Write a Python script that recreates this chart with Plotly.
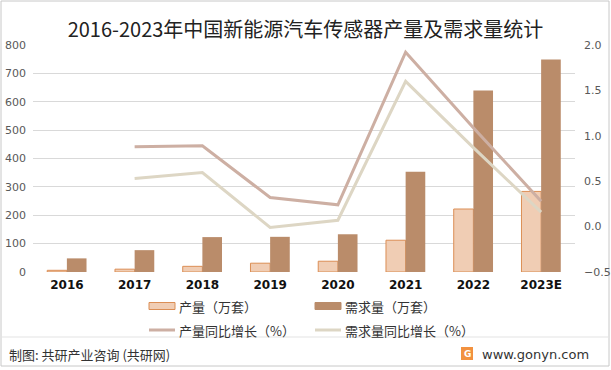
import plotly.graph_objects as go

years = ["2016", "2017", "2018", "2019", "2020", "2021", "2022", "2023E"]
production = [6, 10, 20, 31, 38, 112, 222, 284]
demand = [48, 77, 123, 124, 133, 353, 640, 749]
prod_growth = [None, 0.88, 0.89, 0.32, 0.24, 1.92, 1.09, 0.28]
demand_growth = [None, 0.53, 0.595, -0.01, 0.07, 1.60, 0.87, 0.16]
left_ticks = [0, 100, 200, 300, 400, 500, 600, 700, 800]
right_ticks = [-0.5, 0.0, 0.5, 1.0, 1.5, 2.0]
series_names = ["产量（万套）", "需求量（万套）", "产量同比增长（%）", "需求量同比增长（%）"]

FONT = "Noto Sans CJK SC"
W, H = 611, 370
L, R, T, B = 33, 36, 45, 98
PW, PH = W - L - R, H - T - B


def px(x):
    return (x - L) / PW


def py(y):
    return (H - B - y) / PH


C_PROD, C_PROD_LINE = "#F0CDB4", "#DB8E55"
C_DEM = "#BA8C6A"
C_PG, C_DG = "#CDAFA3", "#DDD6C4"

fig = go.Figure()
fig.add_trace(go.Bar(
    x=years, y=production, name=series_names[0],
    marker=dict(color=C_PROD, line=dict(color=C_PROD_LINE, width=1)),
))
fig.add_trace(go.Bar(
    x=years, y=demand, name=series_names[1],
    marker=dict(color=C_DEM, line=dict(color=C_DEM, width=0)),
))
fig.add_trace(go.Scatter(
    x=years, y=prod_growth, name=series_names[2], yaxis="y2",
    mode="lines", line=dict(color=C_PG, width=3),
))
fig.add_trace(go.Scatter(
    x=years, y=demand_growth, name=series_names[3], yaxis="y2",
    mode="lines", line=dict(color=C_DG, width=3),
))

fig.update_layout(
    width=W, height=H,
    margin=dict(l=L, r=R, t=T, b=B, autoexpand=False),
    paper_bgcolor="white", plot_bgcolor="white",
    font=dict(family=FONT, color="#595959", size=11),
    barmode="group", bargap=0.42, bargroupgap=0,
    showlegend=False,
    title=dict(text="2016-2023年中国新能源汽车传感器产量及需求量统计",
               x=0.5, xanchor="center", y=1 - 30 / H, yanchor="middle",
               font=dict(family=FONT, size=20, color="#222222")),
    xaxis=dict(type="category", showgrid=False, showline=False, ticks="",
               ticklabelstandoff=4,
               tickfont=dict(family="DejaVu Sans", size=12, color="#111111", weight="bold")),
    yaxis=dict(range=[0, 800], tickvals=left_ticks, showgrid=True,
               gridcolor="#D9D9D9", gridwidth=1, zeroline=False, showline=False,
               ticks="", ticklabelstandoff=6,
               tickfont=dict(family="DejaVu Sans", size=11, color="#595959")),
    yaxis2=dict(range=[-0.5, 2.0], tickvals=right_ticks, tickformat=".1f",
                overlaying="y", side="right", showgrid=False, zeroline=False,
                showline=False, ticks="", ticklabelstandoff=8,
                tickfont=dict(family="DejaVu Sans", size=11, color="#595959")),
)

# manual legend
legend_items = [
    (series_names[0], "bar", C_PROD, C_PROD_LINE, 149, 306),
    (series_names[1], "bar", C_DEM, C_DEM, 315, 306),
    (series_names[2], "line", C_PG, C_PG, 149, 330),
    (series_names[3], "line", C_DG, C_DG, 315, 330),
]
for name, kind, fill, edge, x0, yc in legend_items:
    if kind == "bar":
        fig.add_shape(type="rect", xref="paper", yref="paper",
                      x0=px(x0), x1=px(x0 + 26), y0=py(yc + 3.5), y1=py(yc - 3.5),
                      fillcolor=fill, line=dict(color=edge, width=1))
    else:
        fig.add_shape(type="line", xref="paper", yref="paper",
                      x0=px(x0), x1=px(x0 + 26), y0=py(yc), y1=py(yc),
                      line=dict(color=fill, width=3))
    fig.add_annotation(text=name, xref="paper", yref="paper",
                       x=px(x0 + 28), xanchor="left", y=py(yc), yanchor="middle",
                       showarrow=False, font=dict(family=FONT, size=13, color="#333333"))

# frame and footer separator
fig.add_shape(type="rect", xref="paper", yref="paper",
              x0=px(1), x1=px(609), y0=py(366), y1=py(1),
              line=dict(color="#C8C8C8", width=1), fillcolor="rgba(0,0,0,0)", layer="below")
fig.add_shape(type="line", xref="paper", yref="paper",
              x0=px(1), x1=px(609), y0=py(337), y1=py(337),
              line=dict(color="#E3E3E3", width=1))
# logo
fig.add_shape(type="rect", xref="paper", yref="paper",
              x0=px(461), x1=px(473), y0=py(360), y1=py(347),
              line=dict(width=0), fillcolor="#F2913F")
fig.add_annotation(text="<b>G</b>", xref="paper", yref="paper",
                   x=px(467), xanchor="center", y=py(353.5), yanchor="middle",
                   showarrow=False,
                   font=dict(family="DejaVu Sans", size=9, color="white"))
fig.add_annotation(text="制图: 共研产业咨询 (共研网)", xref="paper", yref="paper",
                   x=px(7), xanchor="left", y=py(354.5), yanchor="middle",
                   showarrow=False, font=dict(family=FONT, size=13, color="#333333"))
fig.add_annotation(text="www.gonyn.com", xref="paper", yref="paper",
                   x=px(480), xanchor="left", y=py(354), yanchor="middle",
                   showarrow=False, font=dict(family="DejaVu Sans", size=13, color="#333333"))

fig.write_html("out.html", config={"displayModeBar": False},
               post_script="document.body.style.margin='0';document.body.style.overflow='hidden';")
